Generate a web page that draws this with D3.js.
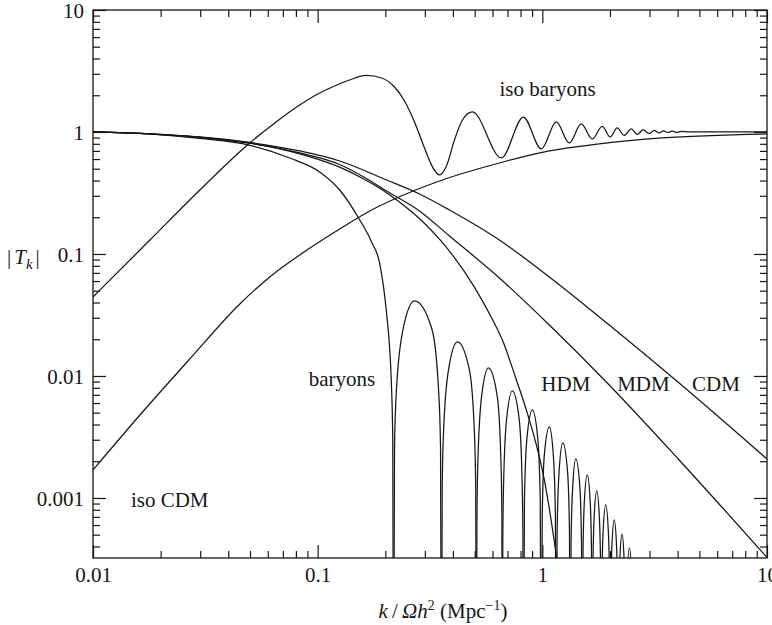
<!DOCTYPE html>
<html>
<head>
<meta charset="utf-8">
<script src="https://cdn.jsdelivr.net/npm/d3@7"></script>
<style>
  html, body { margin: 0; padding: 0; background: #fff; }
  svg { display: block; font-family: "Liberation Serif", "Times New Roman", serif; }
</style>
</head>
<body>
<svg id="chart" width="772" height="625"></svg>
<script>
// Transfer functions |T_k| against k/Ωh² for adiabatic and isocurvature models.

const xTicks = [0.01, 0.1, 1, 10];
const xTickLabels = ["0.01", "0.1", "1", "10"];
const yTicks = [0.001, 0.01, 0.1, 1, 10];
const yTickLabels = ["0.001", "0.01", "0.1", "1", "10"];
const kDomain = [0.01, 10];
const tDomain = [3.22e-4, 10];

// A value this small marks a node (zero crossing) of the baryon curve.
const NODE = 1e-5;

// Each series: [k, |T_k|]
const cdm = [
  [0.01, 1.0], [0.01792, 0.963], [0.02989, 0.91], [0.04986, 0.8202], [0.08318, 0.6988],
  [0.1253, 0.5784], [0.2026, 0.4043], [0.284, 0.3102], [0.3861, 0.2294], [0.644, 0.1302],
  [1.0743, 0.06478], [1.9852, 0.02618], [4.0634, 0.008762], [10, 0.002088]
];

const mdm = [
  [0.01, 1.0], [0.01792, 0.963], [0.02989, 0.9014], [0.04986, 0.8095], [0.08318, 0.6729],
  [0.1253, 0.5416], [0.1634, 0.4197], [0.2026, 0.3284], [0.284, 0.2251], [0.3861, 0.1404],
  [0.644, 0.06357], [1.0743, 0.02618], [1.9852, 0.008437], [4.0634, 0.002049], [10, 0.000325]
];

const hdm = [
  [0.01, 1.0], [0.01792, 0.963], [0.02989, 0.905], [0.04986, 0.81], [0.08318, 0.662],
  [0.1253, 0.515], [0.1634, 0.404], [0.2026, 0.318], [0.25, 0.238], [0.3, 0.177],
  [0.35, 0.131], [0.4, 0.097], [0.5, 0.053], [0.6, 0.029], [0.664, 0.0197],
  [0.759, 0.0098], [0.8489, 0.005264], [0.9404, 0.002719], [1.0207, 0.001405],
  [1.0853, 0.000726], [1.154, 0.000341], [1.19, 0.000234]
];

const baryons = [
  [0.01, 1.0], [0.01792, 0.963], [0.02989, 0.8845], [0.04986, 0.7781], [0.07509, 0.6121],
  [0.1021, 0.47], [0.1253, 0.3346], [0.1521, 0.1973], [0.1738, 0.1254], [0.1886, 0.08437],
  [0.2026, 0.03284], [0.2089, 0.01729], [0.2126, 0.009274], [0.2159, 0.002989], [0.2177, NODE],
  [0.2198, 0.002587], [0.2242, 0.00768], [0.2401, 0.02428], [0.2698, 0.04119], [0.3224, 0.02428],
  [0.3453, 0.00768], [0.3523, 0.002587], [0.3557, NODE],
  [0.3583, 0.001193], [0.3634, 0.003553], [0.3821, 0.01117], [0.419, 0.019], [0.4738, 0.01117],
  [0.4981, 0.003553], [0.5053, 0.001193], [0.509, NODE],
  [0.5117, 0.00073], [0.5174, 0.002175], [0.5368, 0.006838], [0.5754, 0.01163], [0.6297, 0.006838],
  [0.6533, 0.002175], [0.6606, 0.00073], [0.6641, NODE],
  [0.6669, 0.000473], [0.673, 0.001409], [0.6933, 0.004431], [0.7356, 0.007535], [0.7887, 0.004431],
  [0.8124, 0.001409], [0.8198, 0.000473], [0.8233, NODE],
  [0.8326, 0.000984], [0.8542, 0.003095], [0.9027, 0.005264], [0.954, 0.003095], [0.9787, 0.000984], [0.9898, NODE],
  [0.999, 0.000714], [1.0207, 0.002246], [1.0743, 0.003819], [1.1192, 0.002246], [1.1435, 0.000714], [1.154, NODE],
  [1.1635, 0.000528], [1.1876, 0.00166], [1.2334, 0.002824], [1.2942, 0.00166], [1.321, 0.000528], [1.3318, NODE],
  [1.3414, 0.00039], [1.3649, 0.001228], [1.4089, 0.002088], [1.4693, 0.001228], [1.4951, 0.00039], [1.5058, NODE],
  [1.5151, 0.000289], [1.537, 0.000908], [1.5849, 0.001544], [1.6343, 0.000908], [1.6579, 0.000289], [1.6681, NODE],
  [1.6766, 0.000213], [1.6991, 0.000671], [1.7467, 0.001141], [1.7956, 0.000671], [1.8197, 0.000213], [1.829, NODE],
  [1.8384, 0.000164], [1.863, 0.000515], [1.9152, 0.000876], [1.9689, 0.000515], [1.9953, 0.000164], [2.0055, NODE],
  [2.0157, 0.000123], [2.0386, 0.000388], [2.0893, 0.00066], [2.1414, 0.000388], [2.1657, 0.000123], [2.1767, NODE],
  [2.1878, 0.0000948], [2.2104, 0.000298], [2.2631, 0.000507], [2.3146, 0.000298], [2.3384, 0.0000948], [2.3504, NODE],
  [2.3625, 0.0000728], [2.3868, 0.000229], [2.4411, 0.000389], [2.4993, 0.000229], [2.525, 0.0000728], [2.5379, NODE]
];

const isoCdm = [
  [0.01, 0.001697], [0.01618, 0.004789], [0.02698, 0.01379], [0.04501, 0.03892], [0.06118, 0.06479],
  [0.08318, 0.09813], [0.1253, 0.1603], [0.1738, 0.2295], [0.2564, 0.3192], [0.3594, 0.4043],
  [0.644, 0.5569], [1.0743, 0.6988], [1.792, 0.7976], [3.4145, 0.8929], [10, 0.963]
];

const isoBaryons = [
  [0.01, 0.04441], [0.01792, 0.1302], [0.02989, 0.3346], [0.04986, 0.8125], [0.0644, 1.1853],
  [0.08318, 1.6642], [0.1021, 2.0877], [0.119, 2.3826], [0.1387, 2.6686], [0.1651, 2.9047],
  [0.1925, 2.7712], [0.2198, 2.3384], [0.2436, 1.7957], [0.2698, 1.2078], [0.2989, 0.7394],
  [0.3245, 0.5165], [0.3485, 0.4441], [0.3744, 0.5264], [0.4063, 0.8599], [0.441, 1.2542],
  [0.4885, 1.4584], [0.6573, 0.6121], [0.8233, 1.3269], [0.9898, 0.7255], [1.154, 1.2078],
  [1.3183, 0.8125], [1.4904, 1.1629], [1.668, 0.8762], [1.8478, 1.1093], [2.0055, 0.91],
  [2.1544, 1.0784], [2.3146, 0.9361], [2.4866, 1.0583], [2.6436, 0.9539], [2.8109, 1.0385],
  [2.9893, 0.9721], [3.1462, 1.0287], [3.3113, 0.9813], [3.4498, 1.0191], [3.6308, 0.9906],
  [3.7827, 1.0152], [3.9811, 0.9925], [4.1475, 1.0095], [4.5008, 1.0], [10, 1.0]
];

const seriesList = [cdm, mdm, hdm, baryons, isoCdm, isoBaryons];

// Curve captions, anchored at (k, |T_k|) of their left baseline
const curveLabels = [
  { text: "iso baryons", k: 0.644, t: 1.973 },
  { text: "baryons", k: 0.0912, t: 0.00828 },
  { text: "HDM", k: 0.99, t: 0.00746 },
  { text: "MDM", k: 2.154, t: 0.00746 },
  { text: "CDM", k: 4.642, t: 0.00746 },
  { text: "iso CDM", k: 0.01475, t: 0.000843 }
];

const margin = { left: 93, top: 10, right: 5, bottom: 67 };
const width = 772, height = 625;
const plotW = width - margin.left - margin.right;   // 674
const plotH = height - margin.top - margin.bottom;  // 548

const svg = d3.select("#chart");
const ink = "#161616";

const x = d3.scaleLog().domain(kDomain).range([0, plotW]);
const y = d3.scaleLog().domain(tDomain).range([plotH, 0]);

const g = svg.append("g").attr("transform", `translate(${margin.left},${margin.top})`);

svg.append("defs").append("clipPath").attr("id", "plot-clip")
  .append("rect").attr("x", 0).attr("y", 0).attr("width", plotW).attr("height", plotH);

// Split a series wherever it touches a node so each lobe is drawn on its own
function splitAtNodes(points) {
  const parts = [];
  let current = [];
  points.forEach(p => {
    current.push(p);
    if (p[1] <= NODE) { parts.push(current); current = [p]; }
  });
  if (current.length > 1) parts.push(current);
  return parts;
}

const line = d3.line()
  .x(d => x(d[0]))
  .y(d => y(d[1]))
  .curve(d3.curveMonotoneX);

const curves = g.append("g").attr("clip-path", "url(#plot-clip)");
seriesList.forEach(s => {
  splitAtNodes(s).forEach(part => {
    curves.append("path")
      .datum(part)
      .attr("d", line)
      .attr("fill", "none")
      .attr("stroke", ink)
      .attr("stroke-width", 1.25)
      .attr("stroke-linejoin", "round");
  });
});

// Axes: inward ticks on all four sides, long at decades, short between
const isDecade = v => Math.abs(Math.log10(v) - Math.round(Math.log10(v))) < 1e-9;
const xMinor = x.ticks().filter(v => !isDecade(v));
const yMinor = y.ticks().filter(v => !isDecade(v) && v >= tDomain[0]);
const majorLen = 13, minorLen = 7;

function styleAxis(sel) {
  sel.select(".domain").remove();
  sel.selectAll("line").attr("stroke", ink).attr("stroke-width", 1.2);
  sel.selectAll("text").attr("fill", ink).attr("font-size", 21)
    .attr("font-family", "Liberation Serif, Times New Roman, serif");
}

const xLabelOf = d => xTickLabels[xTicks.indexOf(d)];
const yLabelOf = d => yTickLabels[yTicks.indexOf(d)];

// bottom
const bottomMajor = g.append("g").attr("transform", `translate(0,${plotH})`)
  .call(d3.axisBottom(x).tickValues(xTicks).tickFormat(xLabelOf).tickSizeInner(-majorLen).tickSizeOuter(0));
bottomMajor.selectAll("text").attr("y", 24).attr("dy", 0);
styleAxis(bottomMajor);
styleAxis(g.append("g").attr("transform", `translate(0,${plotH})`)
  .call(d3.axisBottom(x).tickValues(xMinor).tickFormat("").tickSizeInner(-minorLen).tickSizeOuter(0)));

// top
styleAxis(g.append("g")
  .call(d3.axisTop(x).tickValues(xTicks).tickFormat("").tickSizeInner(-majorLen).tickSizeOuter(0)));
styleAxis(g.append("g")
  .call(d3.axisTop(x).tickValues(xMinor).tickFormat("").tickSizeInner(-minorLen).tickSizeOuter(0)));

// left
const leftMajor = g.append("g")
  .call(d3.axisLeft(y).tickValues(yTicks).tickFormat(yLabelOf).tickSizeInner(-majorLen).tickSizeOuter(0));
leftMajor.selectAll("text").attr("x", -9).attr("dy", "0.34em");
styleAxis(leftMajor);
styleAxis(g.append("g")
  .call(d3.axisLeft(y).tickValues(yMinor).tickFormat("").tickSizeInner(-minorLen).tickSizeOuter(0)));

// right
styleAxis(g.append("g").attr("transform", `translate(${plotW},0)`)
  .call(d3.axisRight(y).tickValues(yTicks).tickFormat("").tickSizeInner(-majorLen).tickSizeOuter(0)));
styleAxis(g.append("g").attr("transform", `translate(${plotW},0)`)
  .call(d3.axisRight(y).tickValues(yMinor).tickFormat("").tickSizeInner(-minorLen).tickSizeOuter(0)));

// frame
g.append("rect")
  .attr("x", 0).attr("y", 0).attr("width", plotW).attr("height", plotH)
  .attr("fill", "none").attr("stroke", ink).attr("stroke-width", 1.3);

// curve captions
g.append("g").selectAll("text")
  .data(curveLabels)
  .join("text")
  .attr("x", d => x(d.k))
  .attr("y", d => y(d.t))
  .attr("font-size", 21)
  .attr("fill", ink)
  .text(d => d.text);

// x-axis title: k/Ωh² (Mpc⁻¹)
const xt = svg.append("text")
  .attr("x", margin.left + plotW / 2 + 13)
  .attr("y", 618)
  .attr("text-anchor", "middle")
  .attr("font-size", 21)
  .attr("fill", ink);
xt.append("tspan").attr("font-style", "italic").text("k");
xt.append("tspan").text("\u2009/\u2009");
xt.append("tspan").attr("font-style", "italic").text("\u03A9h");
xt.append("tspan").attr("font-size", 14).attr("dy", -8).text("2");
xt.append("tspan").attr("dy", 8).text(" (Mpc");
xt.append("tspan").attr("font-size", 14).attr("dy", -8).text("\u22121");
xt.append("tspan").attr("dy", 8).text(")");

// y-axis title: |T_k|
const yt = svg.append("text")
  .attr("x", 7)
  .attr("y", 264)
  .attr("font-size", 21)
  .attr("fill", ink);
yt.append("tspan").text("|");
yt.append("tspan").attr("dx", 3).attr("font-style", "italic").text("T");
yt.append("tspan").attr("dy", 5).attr("font-size", 15).attr("font-style", "italic").text("k");
yt.append("tspan").attr("dy", -5).attr("dx", 3).text("|");
</script>
</body>
</html>
